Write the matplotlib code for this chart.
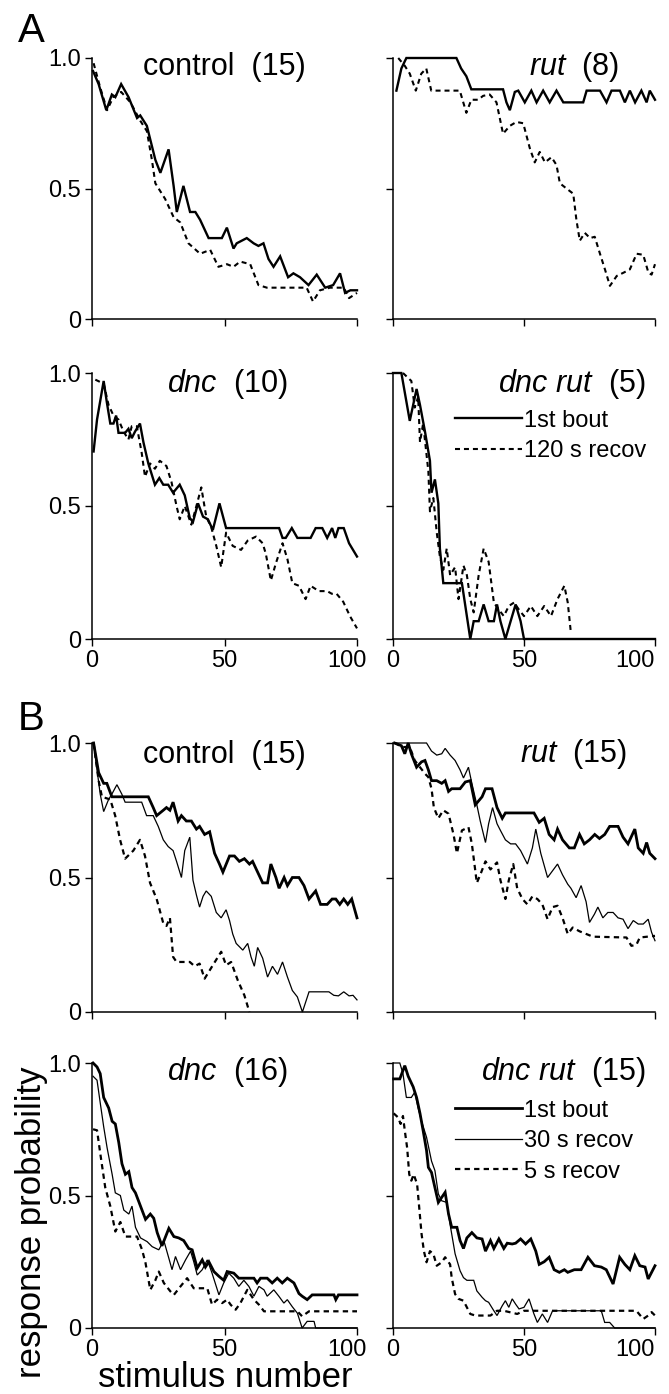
import matplotlib
matplotlib.use("Agg")
import matplotlib.pyplot as plt


# ---- panel A: 1st bout vs 120 s recovery ----
a_control_bout_x = [0.4, 2.5, 5.4, 7.5, 8.8, 11, 13.8, 17, 18.2, 20.7, 23.9, 25.8, 28.9, 30.8, 32, 34.5, 37, 39,
                    40.8, 44, 49, 50.9, 53.4, 54.6, 58.4, 61, 62.8, 64.7, 66.6, 68.5, 71, 74, 76, 78.5, 81.7,
                    84.8, 88, 91, 93.6, 95.5, 97.5, 100]
a_control_bout_y = [0.95, 0.90, 0.80, 0.86, 0.85, 0.90, 0.85, 0.77, 0.78, 0.74, 0.61, 0.56, 0.65, 0.51, 0.41,
                    0.51, 0.41, 0.41, 0.38, 0.31, 0.31, 0.35, 0.27, 0.29, 0.31, 0.29, 0.28, 0.29, 0.23, 0.20,
                    0.24, 0.16, 0.175, 0.16, 0.13, 0.17, 0.12, 0.13, 0.175, 0.10, 0.11, 0.11]
a_control_recov_x = [0.6, 3, 5.7, 8, 11, 14.5, 18.2, 20.7, 22.6, 23.9, 27.6, 30.8, 33.3, 36.4, 40.8, 44.6, 47.7,
                     50.9, 53.4, 55.9, 59.7, 62.8, 66, 81, 83.4, 86, 89.8, 95, 97, 100]
a_control_recov_y = [0.98, 0.89, 0.80, 0.85, 0.87, 0.83, 0.76, 0.72, 0.61, 0.52, 0.46, 0.39, 0.37, 0.29, 0.25,
                     0.265, 0.20, 0.21, 0.20, 0.22, 0.21, 0.13, 0.12, 0.12, 0.067, 0.11, 0.12, 0.12, 0.08, 0.10]

a_rut_bout_x = [1.3, 3.2, 5.1, 24.2, 26, 28, 29.9, 42, 43.3, 44.6, 46.5, 47.8, 50.3, 52.8, 54.8, 57.3, 59.8, 62.4,
                65, 72.6, 73.9, 79, 81.5, 83.4, 86.6, 88.5, 90.4, 92.4, 94.8, 96.8, 98, 100]
a_rut_bout_y = [0.875, 0.96, 1.0, 1.0, 0.96, 0.93, 0.88, 0.88, 0.83, 0.80, 0.87, 0.875, 0.83, 0.875, 0.83, 0.875,
                0.83, 0.875, 0.83, 0.83, 0.875, 0.875, 0.83, 0.875, 0.875, 0.83, 0.875, 0.83, 0.875, 0.83,
                0.875, 0.84]
a_rut_recov_x = [2, 4.5, 6.4, 8.7, 10.8, 12.7, 14.6, 25.5, 28, 29.9, 32.5, 34.4, 36.9, 39.5, 42, 44.6, 47.1, 49.7,
                 52.2, 54.1, 56, 58, 60.5, 62.4, 63.7, 66.2, 68.8, 70, 71.3, 73.2, 75.2, 77, 79, 80.9, 82.8,
                 85.4, 87.9, 90.4, 93, 95.5, 97.5, 98.7, 100]
a_rut_recov_y = [1.0, 0.97, 0.94, 0.875, 0.94, 0.96, 0.875, 0.875, 0.79, 0.84, 0.84, 0.855, 0.86, 0.83, 0.71,
                 0.74, 0.755, 0.75, 0.655, 0.60, 0.64, 0.60, 0.62, 0.59, 0.52, 0.50, 0.48, 0.38, 0.30, 0.33,
                 0.31, 0.315, 0.25, 0.19, 0.127, 0.165, 0.177, 0.19, 0.25, 0.246, 0.177, 0.17, 0.21]

a_dnc_bout_x = [0.6, 1.9, 4.4, 5.6, 6.9, 8.1, 9.1, 10, 12.5, 13.75, 15, 16.25, 18.1, 19.4, 21.25, 23.75, 25.4,
                26.9, 28.75, 30.6, 33.1, 35, 36.9, 38.1, 40, 41.9, 43.75, 45.6, 48.1, 50.6, 70.6, 71.9, 73.1,
                75.4, 77.5, 82.5, 84.4, 86.9, 88.75, 90.6, 91.8, 93, 95, 97, 100]
a_dnc_bout_y = [0.705, 0.825, 0.97, 0.89, 0.81, 0.81, 0.84, 0.775, 0.775, 0.79, 0.755, 0.78, 0.81, 0.74, 0.66,
                0.58, 0.605, 0.58, 0.58, 0.55, 0.58, 0.54, 0.455, 0.44, 0.51, 0.46, 0.45, 0.41, 0.51, 0.417,
                0.417, 0.38, 0.38, 0.417, 0.38, 0.38, 0.417, 0.417, 0.38, 0.417, 0.38, 0.417, 0.417, 0.36, 0.31]
a_dnc_recov_x = [1.25, 4.4, 6.25, 8.1, 10, 11.9, 13.75, 15, 16.9, 18.75, 20, 21.9, 23.75, 25.6, 28.1, 30, 31.9,
                 33.1, 35, 37.5, 39.4, 41.25, 43.1, 45, 46.9, 48.75, 50.6, 53.1, 56.25, 58.75, 61.9, 64.4, 65.6,
                 67.5, 69.4, 71.9, 73.75, 75.6, 78.1, 80.6, 82.5, 85.6, 88.75, 90.5, 92.3, 94.8, 97.4, 100]
a_dnc_recov_y = [0.975, 0.96, 0.88, 0.84, 0.825, 0.78, 0.75, 0.80, 0.80, 0.70, 0.61, 0.66, 0.64, 0.67, 0.65,
                 0.59, 0.50, 0.45, 0.50, 0.43, 0.50, 0.57, 0.46, 0.42, 0.35, 0.27, 0.40, 0.35, 0.335, 0.37,
                 0.385, 0.36, 0.32, 0.22, 0.285, 0.36, 0.30, 0.21, 0.20, 0.15, 0.20, 0.18, 0.18, 0.17, 0.17,
                 0.14, 0.085, 0.04]

a_dncrut_bout_x = [0, 3.2, 6.4, 9, 10.3, 12.2, 14.1, 14.7, 16, 17.3, 17.9, 19.2, 26.3, 29.5, 30.8, 32.7, 34.6,
                   36.5, 38.5, 39.7, 41, 42.9, 44.9, 46.8, 48.7, 50, 100]
a_dncrut_bout_y = [1.0, 1.0, 0.82, 0.94, 0.88, 0.78, 0.67, 0.55, 0.60, 0.51, 0.34, 0.21, 0.21, 0.0, 0.067, 0.067,
                   0.13, 0.067, 0.067, 0.13, 0.067, 0.0, 0.067, 0.13, 0.067, 0.0, 0.0]
a_dncrut_recov_x = [3.8, 7, 8.3, 9.6, 10.3, 11.5, 13.5, 14.1, 15.4, 16.7, 17.9, 19.2, 20.5, 21.8, 23.7, 25, 26.9,
                    28.2, 29.5, 30.8, 32.7, 34.6, 36.5, 38.5, 40.4, 42.3, 44.2, 46.2, 48.1, 50, 52.6, 55.1, 57.7,
                    60.3, 62.8, 65.4, 66.7, 67.9]
a_dncrut_recov_y = [1.0, 0.97, 0.87, 0.91, 0.74, 0.81, 0.63, 0.48, 0.53, 0.40, 0.31, 0.26, 0.34, 0.24, 0.27,
                    0.15, 0.276, 0.24, 0.15, 0.10, 0.24, 0.34, 0.29, 0.137, 0.11, 0.086, 0.124, 0.137, 0.11,
                    0.086, 0.124, 0.086, 0.124, 0.086, 0.15, 0.20, 0.137, 0.023]

# ---- panel B: 1st bout, 30 s and 5 s recovery ----
b_control_bout_x = [0.6, 2.5, 4.4, 5.6, 7.5, 21.25, 23.1, 24.4, 26.9, 28.1, 29.4, 30.6, 32.5, 33.75, 35.6, 37.5,
                    39.4, 40.6, 42.5, 44.4, 46.25, 48.1, 49.4, 51.9, 53.75, 55.6, 57.5, 59.4, 60.6, 62.5, 64.4,
                    66.25, 67.5, 69.4, 70.6, 72.5, 73.75, 75.6, 78.1, 80, 81.9, 84.4, 86.25, 88.75, 90.6, 92,
                    93.5, 95, 96.5, 98, 100]
b_control_bout_y = [1.0, 0.89, 0.85, 0.85, 0.80, 0.80, 0.76, 0.73, 0.75, 0.76, 0.75, 0.78, 0.71, 0.73, 0.71, 0.71,
                    0.68, 0.69, 0.66, 0.67, 0.59, 0.55, 0.52, 0.58, 0.58, 0.56, 0.57, 0.55, 0.56, 0.52, 0.48,
                    0.48, 0.55, 0.50, 0.46, 0.50, 0.47, 0.50, 0.50, 0.47, 0.42, 0.45, 0.40, 0.40, 0.42, 0.42,
                    0.40, 0.42, 0.40, 0.42, 0.35]
b_control_30s_x = [0.6, 1.9, 3.1, 4.4, 6.25, 7.5, 9.4, 11.25, 12.5, 18.75, 20.6, 23.1, 25, 26.9, 28.75, 30.6,
                   31.9, 33.75, 35, 36.9, 38.1, 39.4, 40.6, 41.9, 43.1, 45, 46.9, 48.75, 50.6, 51.9, 53.1, 54.4,
                   56.9, 58.75, 60, 61.25, 62.5, 64.4, 66.25, 68.1, 70, 71.9, 73.75, 75.6, 77.5, 79.4, 81.9,
                   89.4, 91.25, 93, 95, 97, 98.5, 100]
b_control_30s_y = [1.0, 0.90, 0.81, 0.745, 0.79, 0.81, 0.845, 0.81, 0.78, 0.78, 0.73, 0.73, 0.69, 0.64, 0.615,
                   0.60, 0.56, 0.50, 0.60, 0.65, 0.49, 0.435, 0.39, 0.43, 0.45, 0.43, 0.37, 0.35, 0.38, 0.34,
                   0.29, 0.255, 0.23, 0.255, 0.205, 0.17, 0.24, 0.20, 0.13, 0.17, 0.14, 0.186, 0.13, 0.08,
                   0.056, 0.0, 0.075, 0.075, 0.062, 0.06, 0.075, 0.06, 0.062, 0.045]
b_control_5s_x = [0.6, 2.5, 3.75, 6.9, 8.75, 10.6, 12.5, 15.6, 18.1, 20, 21.9, 24.4, 26.9, 28.1, 29.4, 30.6, 31.9,
                  36.9, 38.75, 40.6, 42.5, 45.6, 48.75, 50.6, 52.5, 55, 57.5, 59.4]
b_control_5s_y = [1.0, 0.86, 0.80, 0.79, 0.73, 0.64, 0.57, 0.60, 0.64, 0.58, 0.48, 0.42, 0.33, 0.32, 0.35, 0.205,
                  0.186, 0.186, 0.17, 0.18, 0.124, 0.174, 0.224, 0.174, 0.186, 0.118, 0.062, 0.0]

b_rut_bout_x = [0.6, 3.2, 4.5, 5.8, 7, 9, 10.9, 12.2, 13.5, 14.7, 16.7, 18.6, 19.9, 21.2, 22.4, 25.6, 27.6, 29.5,
                31.4, 34, 35.3, 37.8, 39.7, 41.7, 42.9, 53.8, 55.8, 57.7, 59.6, 61.5, 62.8, 64.7, 67.3, 69.2,
                71.2, 73, 75, 77, 78.8, 80.8, 82.7, 85.9, 87.8, 89.7, 92.3, 93.6, 95.5, 96.8, 98, 100]
b_rut_bout_y = [1.0, 0.99, 0.96, 1.0, 0.96, 0.91, 0.93, 0.935, 0.90, 0.86, 0.86, 0.85, 0.86, 0.82, 0.83, 0.83,
                0.855, 0.86, 0.77, 0.80, 0.83, 0.83, 0.76, 0.72, 0.74, 0.74, 0.705, 0.72, 0.66, 0.64, 0.68,
                0.64, 0.61, 0.61, 0.66, 0.625, 0.64, 0.66, 0.645, 0.66, 0.69, 0.69, 0.65, 0.625, 0.68, 0.61,
                0.59, 0.63, 0.59, 0.57]
b_rut_30s_x = [0.6, 12.8, 14.7, 16.7, 18.6, 19.9, 21.8, 23.7, 25.6, 26.9, 28.8, 30.1, 32, 33.3, 35.3, 36.5, 38,
               39.7, 41, 42.9, 44.9, 46.8, 48.7, 51.3, 53.2, 54.5, 56.4, 59, 60.9, 62.8, 64.7, 66.7, 67.9, 69.9,
               71.8, 73.7, 75, 76.9, 78.2, 80.1, 82, 84, 85.9, 87.8, 89.7, 91.7, 93.6, 95.5, 97.4, 98.7, 100]
b_rut_30s_y = [1.0, 1.0, 0.97, 0.955, 0.96, 0.98, 0.955, 0.935, 0.90, 0.87, 0.91, 0.85, 0.77, 0.71, 0.63, 0.70,
               0.76, 0.70, 0.675, 0.64, 0.625, 0.625, 0.60, 0.55, 0.61, 0.68, 0.59, 0.50, 0.525, 0.55, 0.51,
               0.475, 0.46, 0.425, 0.47, 0.41, 0.333, 0.364, 0.39, 0.35, 0.37, 0.37, 0.35, 0.345, 0.31, 0.34,
               0.327, 0.327, 0.345, 0.296, 0.265]
b_rut_5s_x = [0.6, 3.8, 6.4, 8.3, 10.3, 12.2, 13.5, 14.7, 15.6, 17.3, 19.2, 21.2, 23.1, 24.4, 26.3, 28.8, 30.1,
              32, 33.3, 35.3, 37.2, 39.7, 41, 42.9, 44.2, 45.9, 47.4, 49.4, 51.3, 53.2, 55.1, 57, 59, 60.9,
              62.8, 64.7, 66.7, 68.6, 71.2, 76.3, 89.1, 91, 92.9, 94.2, 100]
b_rut_5s_y = [1.0, 0.985, 0.985, 0.935, 0.91, 0.886, 0.873, 0.83, 0.76, 0.72, 0.75, 0.737, 0.66, 0.59, 0.675,
              0.687, 0.625, 0.48, 0.51, 0.56, 0.53, 0.556, 0.49, 0.42, 0.49, 0.55, 0.46, 0.42, 0.40, 0.43,
              0.42, 0.40, 0.345, 0.39, 0.395, 0.35, 0.29, 0.314, 0.30, 0.28, 0.277, 0.246, 0.25, 0.277, 0.283]

b_dnc_bout_x = [0.4, 1.9, 3.1, 4.4, 6.3, 7.6, 8.8, 10.1, 11.3, 12.6, 13.9, 15.1, 16.4, 18.3, 20.2, 22, 23.3,
                24.6, 26.4, 29, 30.9, 32.7, 34.6, 36.5, 37.8, 39.7, 41.6, 42.8, 44.1, 46, 47.9, 49.7, 51, 53.5,
                55.4, 61.1, 62.3, 63.6, 66.1, 68, 69.9, 71.8, 73.7, 76.2, 78.1, 79.3, 81.2, 83.1, 91.3, 92,
                93, 100]
b_dnc_bout_y = [1.0, 0.985, 0.96, 0.87, 0.83, 0.78, 0.77, 0.70, 0.62, 0.58, 0.59, 0.53, 0.51, 0.46, 0.41, 0.43,
                0.414, 0.36, 0.31, 0.376, 0.345, 0.34, 0.33, 0.30, 0.295, 0.226, 0.257, 0.23, 0.25, 0.213,
                0.195, 0.18, 0.213, 0.207, 0.188, 0.188, 0.17, 0.188, 0.188, 0.17, 0.188, 0.17, 0.188, 0.17,
                0.13, 0.12, 0.107, 0.125, 0.125, 0.107, 0.125, 0.125]
b_dnc_30s_x = [0.4, 1.9, 3.1, 4.4, 5.7, 7.6, 8.8, 10.7, 12, 13.9, 15.1, 16.4, 18.3, 20.8, 22.7, 25.2, 27.1, 29,
               30.2, 31.5, 33.4, 35.3, 37.2, 38.4, 39.7, 41.6, 43.5, 45.3, 47.9, 49.7, 51.6, 53.5, 55.4, 57.3,
               59.2, 61.1, 63, 64.9, 66.1, 68.6, 70.5, 72.4, 73.7, 75.6, 77.5, 79.3, 81.2, 83.8, 84.4, 100]
b_dnc_30s_y = [0.95, 0.935, 0.85, 0.76, 0.68, 0.58, 0.51, 0.50, 0.445, 0.43, 0.46, 0.38, 0.34, 0.326, 0.307,
               0.295, 0.33, 0.263, 0.22, 0.27, 0.22, 0.257, 0.29, 0.25, 0.20, 0.22, 0.257, 0.207, 0.125, 0.17,
               0.207, 0.188, 0.157, 0.18, 0.157, 0.12, 0.157, 0.144, 0.12, 0.144, 0.12, 0.094, 0.107, 0.08,
               0.056, 0.0, 0.025, 0.025, 0.0, 0.0]
b_dnc_5s_x = [0.4, 1.9, 3.1, 5, 6.9, 8.8, 10.7, 12.6, 17, 18.9, 20.2, 22, 23.9, 25.2, 27.1, 29.6, 30.9, 33.4,
              35.9, 38.4, 43.5, 45.3, 47.2, 49.1, 51, 52.3, 54.2, 56, 58.6, 61.1, 63, 64.9, 77.5, 79.3, 81.9, 100]
b_dnc_5s_y = [0.75, 0.746, 0.66, 0.53, 0.46, 0.364, 0.40, 0.345, 0.345, 0.295, 0.245, 0.144, 0.18, 0.213, 0.17,
              0.138, 0.125, 0.157, 0.188, 0.15, 0.15, 0.088, 0.107, 0.094, 0.107, 0.088, 0.069, 0.094, 0.144,
              0.107, 0.088, 0.063, 0.063, 0.044, 0.063, 0.063]

b_dncrut_bout_x = [0.25, 2.6, 4.5, 5.8, 7.7, 9, 10.3, 11.5, 12.8, 13.5, 14.7, 16, 17.3, 18.6, 19.9, 21.2, 22.4,
                   24.4, 25.6, 26.9, 28.2, 30.1, 32, 34, 35.3, 37.2, 38.5, 40.4, 42.3, 43.6, 45.5, 46.8, 48.7,
                   50.6, 52.6, 54.5, 55.8, 57.7, 59.6, 61.5, 63.5, 65.4, 66.7, 69.2, 71.8, 74.4, 76.9, 79.5,
                   81.4, 84, 86.5, 88.5, 90.4, 92.3, 94.2, 96.2, 97.4, 98.7, 100]
b_dncrut_bout_y = [0.94, 0.94, 0.99, 0.95, 0.91, 0.87, 0.81, 0.745, 0.67, 0.606, 0.587, 0.53, 0.474, 0.493,
                   0.512, 0.43, 0.38, 0.38, 0.33, 0.30, 0.34, 0.36, 0.34, 0.336, 0.29, 0.33, 0.30, 0.336, 0.30,
                   0.32, 0.317, 0.32, 0.336, 0.317, 0.336, 0.29, 0.24, 0.25, 0.267, 0.22, 0.21, 0.22, 0.21,
                   0.22, 0.22, 0.267, 0.235, 0.23, 0.22, 0.166, 0.267, 0.24, 0.22, 0.273, 0.235, 0.23, 0.185,
                   0.21, 0.235]
b_dncrut_30s_x = [0.25, 2.6, 3.8, 5.1, 7, 8.3, 9.6, 10.9, 12.8, 14.7, 16, 17.3, 18.6, 20.5, 21.8, 23.7, 25.6,
                  26.9, 28.2, 30.8, 32, 34, 35.3, 36.5, 38.5, 39.7, 41.7, 42.9, 44.2, 45.5, 46.8, 48.1, 50, 51.9,
                  53.8, 55.1, 57, 59, 60.9, 79.5, 80.8, 82.7, 84.6, 100]
b_dncrut_30s_y = [1.0, 1.0, 0.96, 0.87, 0.87, 0.89, 0.83, 0.78, 0.72, 0.63, 0.594, 0.506, 0.48, 0.474, 0.39,
                  0.28, 0.216, 0.19, 0.18, 0.18, 0.14, 0.116, 0.103, 0.097, 0.065, 0.047, 0.084, 0.103, 0.078,
                  0.11, 0.09, 0.072, 0.078, 0.11, 0.053, 0.021, 0.053, 0.021, 0.065, 0.065, 0.021, 0.021, 0.0,
                  0.0]
b_dncrut_5s_x = [0.25, 1.9, 2.9, 3.8, 4.5, 5.4, 6.2, 7, 7.9, 9.2, 10, 10.9, 11.8, 12.8, 14.1, 15.4, 16.7, 18.6,
                 19.9, 21.8, 22.4, 23.7, 25, 26.9, 28.2, 29.5, 31.4, 37.2, 39.7, 42.3, 47.4, 50, 92.9, 95.5,
                 97.4, 98.7, 100]
b_dncrut_5s_y = [0.81, 0.795, 0.77, 0.80, 0.745, 0.68, 0.58, 0.556, 0.58, 0.543, 0.455, 0.355, 0.29, 0.248, 0.29,
                 0.28, 0.235, 0.248, 0.267, 0.24, 0.19, 0.128, 0.11, 0.103, 0.078, 0.053, 0.047, 0.047, 0.065,
                 0.065, 0.053, 0.065, 0.065, 0.034, 0.047, 0.06, 0.047]

titles = [r"control  (15)", r"$\mathit{rut}$  (8)", r"$\mathit{dnc}$  (10)", r"$\mathit{dnc\ rut}$  (5)",
          r"control  (15)", r"$\mathit{rut}$  (15)", r"$\mathit{dnc}$  (16)", r"$\mathit{dnc\ rut}$  (15)"]
legend_a = ["1st bout", "120 s recov"]
legend_b = ["1st bout", "30 s recov", "5 s recov"]
x_ticks = [0, 50, 100]
y_ticks = [0, 0.5, 1.0]
y_ticklabels = ["0", "0.5", "1.0"]

FONT = "Liberation Sans"
plt.rcParams["font.family"] = [FONT, "DejaVu Sans"]
plt.rcParams["mathtext.fontset"] = "custom"
plt.rcParams["mathtext.rm"] = FONT
plt.rcParams["mathtext.it"] = FONT + ":italic"

DASH = (0, (2.4, 1.9))
STYLE_A = [dict(color="black", lw=1.7, ls="-"), dict(color="black", lw=1.5, ls=DASH)]
STYLE_B = [dict(color="black", lw=2.0, ls="-"), dict(color="black", lw=0.9, ls="-"),
           dict(color="black", lw=1.6, ls=DASH)]
TICK_FS = 17

W, H = 669, 1394
fig = plt.figure(figsize=(W / 100, H / 100), dpi=100)


def px_axes(left, right, top, bottom):
    return fig.add_axes([left / W, 1 - bottom / H, (right - left) / W, (bottom - top) / H])


cols = [(92, 357), (393, 655)]
rows = [(58, 319), (373, 639), (743, 1012), (1063, 1328)]
title_pos = [(0.50, 0.935), (0.69, 0.935), (0.51, 0.928), (0.965, 0.928),
             (0.50, 0.925), (0.69, 0.928), (0.51, 0.935), (0.965, 0.935)]
title_ha = ["center", "center", "center", "right", "center", "center", "center", "right"]
# the "100" label sits a little left of its tick in the original
last_label_shift = [7.2, 0.0]

curves = [
    [(a_control_bout_x, a_control_bout_y), (a_control_recov_x, a_control_recov_y)],
    [(a_rut_bout_x, a_rut_bout_y), (a_rut_recov_x, a_rut_recov_y)],
    [(a_dnc_bout_x, a_dnc_bout_y), (a_dnc_recov_x, a_dnc_recov_y)],
    [(a_dncrut_bout_x, a_dncrut_bout_y), (a_dncrut_recov_x, a_dncrut_recov_y)],
    [(b_control_bout_x, b_control_bout_y), (b_control_30s_x, b_control_30s_y), (b_control_5s_x, b_control_5s_y)],
    [(b_rut_bout_x, b_rut_bout_y), (b_rut_30s_x, b_rut_30s_y), (b_rut_5s_x, b_rut_5s_y)],
    [(b_dnc_bout_x, b_dnc_bout_y), (b_dnc_30s_x, b_dnc_30s_y), (b_dnc_5s_x, b_dnc_5s_y)],
    [(b_dncrut_bout_x, b_dncrut_bout_y), (b_dncrut_30s_x, b_dncrut_30s_y), (b_dncrut_5s_x, b_dncrut_5s_y)],
]

for i in range(8):
    r, c = divmod(i, 2)
    ax = px_axes(cols[c][0], cols[c][1], rows[r][0], rows[r][1])
    styles = STYLE_A if i < 4 else STYLE_B
    labels = legend_a if i < 4 else legend_b
    for (xs, ys), st, lab in zip(curves[i], styles, labels):
        ax.plot(xs, ys, label=lab, solid_joinstyle="miter", clip_on=False, **st)

    ax.set_xlim(0, 100)
    ax.set_ylim(0, 1)
    ax.spines[["top", "right"]].set_visible(False)
    for s in ("left", "bottom"):
        ax.spines[s].set_linewidth(1.1)
    ax.set_xticks(x_ticks)
    ax.set_yticks(y_ticks)
    ax.tick_params(direction="out", length=5, width=1.0, labelsize=TICK_FS, pad=3)
    ax.set_yticklabels(y_ticklabels if c == 0 else [])
    if r in (1, 3):
        ax.set_xticklabels([str(t) for t in x_ticks[:-1]] + [""])
        ax.annotate(str(x_ticks[-1]), xy=(x_ticks[-1], 0), xycoords=("data", "axes fraction"),
                    xytext=(last_label_shift[c], -8.0), textcoords="offset points",
                    ha="right", va="top", fontsize=TICK_FS)
    else:
        ax.set_xticklabels([])

    ax.text(title_pos[i][0], title_pos[i][1], titles[i], transform=ax.transAxes,
            ha=title_ha[i], va="baseline", fontsize=22)

    if c == 1 and r in (1, 3):
        ax.legend(loc="upper left", bbox_to_anchor=(0.237, 0.862), frameon=False, fontsize=17,
                  handlelength=2.85, handletextpad=0.05, labelspacing=0.36, borderpad=0,
                  borderaxespad=0)

fig.text(18 / W, 1 - 42 / H, "A", fontsize=29, ha="left", va="baseline")
fig.text(18 / W, 1 - 730 / H, "B", fontsize=29, ha="left", va="baseline")
fig.text(32 / W, 1 - 1222 / H, "response probability", rotation=90, fontsize=25, ha="center", va="center")
fig.text(225 / W, 1 - 1387 / H, "stimulus number", fontsize=25, ha="center", va="baseline")

fig.savefig("out.png", dpi=100)
